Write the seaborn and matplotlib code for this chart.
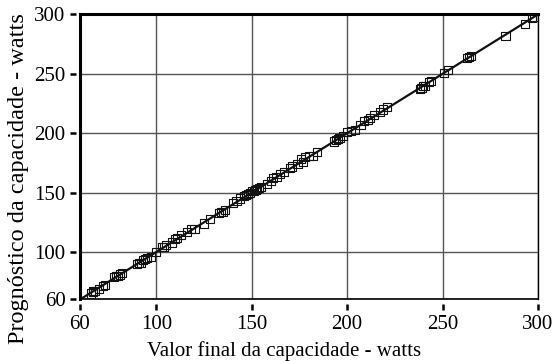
import matplotlib
matplotlib.use("Agg")
import matplotlib.pyplot as plt
from matplotlib.lines import Line2D
import seaborn as sns
import pandas as pd

# Measured final capacity vs. predicted capacity (watts)
valor_final = [66, 67, 67, 68, 70, 72, 73, 78, 79, 80, 81, 82, 90, 91, 92, 93, 94, 95, 97,
               100, 103, 104, 105, 108, 110, 111, 113, 116, 118, 120, 125, 128, 133, 134,
               135, 136, 140, 142, 144, 146, 147, 148, 149, 150, 151, 152, 153, 154, 155,
               158, 160, 161, 163, 165, 167, 170, 171, 174, 176, 177, 178, 180, 182, 184,
               193, 194, 195, 196, 198, 200, 202, 204, 207, 209, 211, 212, 214, 217, 219,
               221, 238, 239, 240, 241, 243, 244, 251, 253, 263, 264, 265, 283, 293, 297, 298]
prognostico = [65, 66, 67, 67, 69, 71, 72, 79, 80, 80, 81, 82, 90, 91, 91, 93, 94, 95, 96,
               100, 104, 104, 106, 108, 111, 112, 114, 117, 119, 119, 124, 128, 133, 134,
               134, 135, 141, 143, 145, 147, 148, 149, 150, 151, 151, 152, 153, 154, 155,
               157, 160, 162, 163, 166, 167, 171, 172, 174, 178, 176, 180, 181, 181, 184,
               193, 194, 195, 196, 198, 201, 202, 203, 207, 210, 211, 213, 215, 218, 220,
               222, 237, 238, 240, 240, 243, 244, 251, 253, 263, 264, 265, 282, 292, 297, 298]

# Identity line
linha_x = [60, 300]
linha_y = [60, 300]

x_ticks = [60, 100, 150, 200, 250, 300]
y_ticks = [60, 100, 150, 200, 250, 300]

sns.set_theme(style="white")
plt.rcParams["font.family"] = ["Liberation Serif", "DejaVu Serif"]

W, H = 554, 361
fig = plt.figure(figsize=(W / 100, H / 100), dpi=100)
ax = fig.add_axes([0.1444, 0.1704, 0.8266, 0.7895])

df = pd.DataFrame({"x": valor_final, "y": prognostico})
sns.lineplot(x=linha_x, y=linha_y, ax=ax, color="#111111", linewidth=1.6, zorder=2)
sns.scatterplot(data=df, x="x", y="y", ax=ax, marker="s", s=34,
                facecolor="none", edgecolor="#111111", linewidth=0.8, zorder=3)

ax.set_xlim(60, 300)
ax.set_ylim(60, 300)
ax.set_xticks(x_ticks)
ax.set_yticks(y_ticks)
ax.grid(True, color="#555555", linewidth=1.0, zorder=0)
ax.set_axisbelow(True)

ax.tick_params(axis="x", length=0, labelsize=15, pad=11, labelcolor="black")
ax.tick_params(axis="y", length=0, labelsize=15, pad=10.5, labelcolor="black")

for side, lw in {"left": 2.2, "top": 2.2, "right": 1.0, "bottom": 1.2}.items():
    ax.spines[side].set_visible(True)
    ax.spines[side].set_color("black")
    ax.spines[side].set_linewidth(lw)

ax.set_xlabel("Valor final da capacidade - watts", fontsize=15, color="black")
ax.set_ylabel("Prognóstico da capacidade - watts", fontsize=17.5, color="black")
ax.xaxis.set_label_coords(0.445, -0.145)
ax.yaxis.set_label_coords(-0.111, 0.426)

# Tick dashes set a few pixels away from the spines, placed in figure pixels
for v in y_ticks:
    px, py = ax.transData.transform((60, v))
    fig.add_artist(Line2D([px - 10, px - 4], [py, py], transform=None,
                          color="black", linewidth=1.8, solid_capstyle="butt"))
for v in x_ticks:
    px, py = ax.transData.transform((v, 60))
    fig.add_artist(Line2D([px, px], [py - 11, py - 5], transform=None,
                          color="black", linewidth=1.8, solid_capstyle="butt"))

fig.savefig("out.png", dpi=100)
